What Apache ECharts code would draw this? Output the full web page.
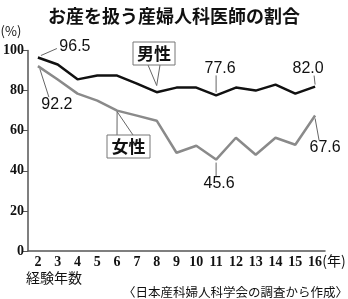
<!DOCTYPE html>
<html><head><meta charset="utf-8">
<script src="https://cdn.jsdelivr.net/npm/echarts@6/dist/echarts.min.js"></script>
<style>html,body{margin:0;padding:0;background:#fff}#c{width:348px;height:299px}</style>
</head><body><div id="c"></div>
<script>
const years = ['2','3','4','5','6','7','8','9','10','11','12','13','14','15','16'];
const male = [96.5, 93, 85.6, 87.5, 87.5, 83.5, 79.2, 81.5, 81.5, 77.6, 81.5, 80, 83, 78.5, 82.0];
const female = [92.2, 85.5, 78.5, 75, 70, 67.5, 65, 49, 52.5, 45.6, 56.5, 48, 56.5, 53, 67.6];
const yMin = 0, yMax = 100, yStep = 20;

const chart = echarts.init(document.getElementById('c'), null, {renderer:'canvas'});
const serif = '"Liberation Serif", "DejaVu Serif", serif';
const sans = '"Liberation Sans", Arial, sans-serif';
const cjk = '"Noto Sans CJK JP", sans-serif';
chart.setOption({
  animation:false,
  backgroundColor:'#fff',
  title:{text:'お産を扱う産婦人科医師の割合', left:'center', top:2,
    textStyle:{fontFamily:cjk, fontWeight:'bold', fontSize:18, color:'#111'}},
  grid:{left:26, right:23, top:50.5, bottom:48, containLabel:false},
  xAxis:{type:'category', data:years, boundaryGap:true,
    axisLine:{lineStyle:{color:'#555', width:1.5}},
    axisTick:{inside:true, length:4, lineStyle:{color:'#555'}},
    axisLabel:{color:'#111', fontFamily:serif, fontWeight:'bold', fontSize:14, margin:4}},
  yAxis:{type:'value', min:yMin, max:yMax, interval:yStep,
    axisLine:{show:true, lineStyle:{color:'#555', width:1.5}},
    axisTick:{show:true, length:5, lineStyle:{color:'#555'}},
    splitLine:{show:false},
    axisLabel:{color:'#111', fontFamily:serif, fontWeight:'bold', fontSize:14, margin:4}},
  series:[
    {type:'line', data:male, symbol:'none', lineStyle:{color:'#111', width:2.5}, z:3},
    {type:'line', data:female, symbol:'none', lineStyle:{color:'#8a8a8a', width:2.5}, z:2}
  ]
});

function px(i, v){ return chart.convertToPixel({xAxisIndex:0, yAxisIndex:0}, [i, v]); }
const g = [];
const lc = '#666';
function line(pts){ g.push({type:'polyline', shape:{points:pts}, style:{stroke:lc, lineWidth:1, fill:null}, z:10}); }
function txt(t, x, y, opt, z){ g.push({type:'text', x:x, y:y, z:z||11, style:Object.assign({text:t, fill:'#111', font:'16px '+sans, textAlign:'center', textVerticalAlign:'middle'}, opt||{})}); }

// 96.5
let p = px(0, male[0]);
line([[p[0]+3,p[1]-2],[p[0]+19,p[1]-9]]);
txt(male[0].toFixed(1), p[0]+37, p[1]-11);
// 92.2
p = px(0, female[0]);
line([[p[0]+2,p[1]+3],[p[0]+11,p[1]+31]]);
txt(female[0].toFixed(1), p[0]+19, p[1]+38);
// 77.6
p = px(9, male[9]);
line([[p[0],p[1]-3],[p[0],p[1]-20]]);
txt(male[9].toFixed(1), p[0]+4, p[1]-27);
// 82.0
p = px(14, male[14]);
line([[p[0],p[1]-2],[p[0]-1,p[1]-11]]);
txt(male[14].toFixed(1), p[0]-7, p[1]-18);
// 45.6
p = px(9, female[9]);
line([[p[0],p[1]+3],[p[0],p[1]+17]]);
txt(female[9].toFixed(1), p[0]+3, p[1]+24);
// 67.6
p = px(14, female[14]);
line([[p[0],p[1]+3],[p[0]+4,p[1]+25]]);
txt(female[14].toFixed(1), p[0]+10, p[1]+32);

// 男性 box
let a = px(6.4, 82.5);
line([[148,65],[a[0],a[1]],[160,65]]);
g.push({type:'rect', shape:{x:133, y:42, width:42, height:23}, style:{fill:'#fff', stroke:'#777', lineWidth:1}, z:12});
txt('男性', 154, 54, {font:'bold 17px '+cjk}, 13);
// 女性 box
a = px(4.1, 69.5);
line([[117,135],[a[0],a[1]],[133,135]]);
g.push({type:'rect', shape:{x:107, y:135, width:43, height:23}, style:{fill:'#fff', stroke:'#777', lineWidth:1}, z:12});
txt('女性', 128.5, 147, {font:'bold 17px '+cjk}, 13);

txt('(%)', 11, 31, {font:'13px '+cjk});
txt('(年)', 334, 261, {font:'14px '+cjk});
txt('経験年数', 26, 278, {font:'14px '+cjk, textAlign:'left'});
txt('〈日本産科婦人科学会の調査から作成〉', 348, 292, {font:'12.5px '+cjk, textAlign:'right'});

chart.setOption({graphic:g});
</script></body></html>
